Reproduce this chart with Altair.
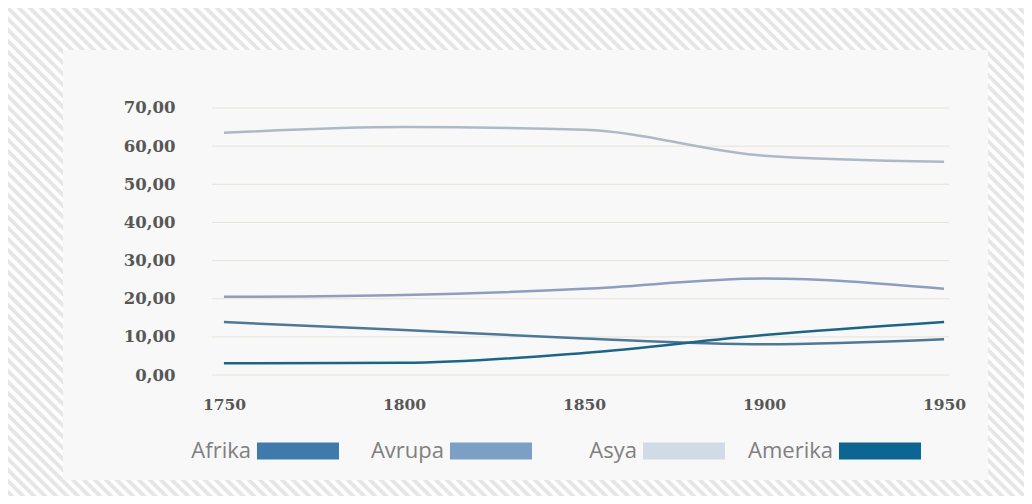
import altair as alt
import pandas as pd

# ---- data ----
years = [1750, 1800, 1850, 1900, 1950]
afrika = [13.9, 11.8, 9.6, 8.1, 9.4]
avrupa = [20.5, 21.0, 22.6, 25.3, 22.6]
asya = [63.5, 65.0, 64.3, 57.5, 55.9]
amerika = [3.1, 3.2, 5.8, 10.5, 13.9]

series = ["Afrika", "Avrupa", "Asya", "Amerika"]
values_by_series = [afrika, avrupa, asya, amerika]
legend_colors = ["#3f7aaa", "#7c9fc6", "#d1dbe7", "#0d6592"]
line_colors = ["#4e7896", "#8e9ebd", "#aeb9c8", "#1d6587"]
y_ticks = [0, 10, 20, 30, 40, 50, 60, 70]
x_ticks = [1750, 1800, 1850, 1900, 1950]

rows = []
for name, vals in zip(series, values_by_series):
    for yr, v in zip(years, vals):
        rows.append({"series": name, "year": yr, "value": v})
df = pd.DataFrame(rows)
grid_df = pd.DataFrame({"value": y_ticks})

# ---- layout ----
W, H = 925, 430
X_DOMAIN = [1705.3, 1962.2]
Y_DOMAIN = [-27.5, 85.2]
GRID_X0, GRID_X1 = 1746.7, 1951.4

xscale = alt.Scale(domain=X_DOMAIN, nice=False, zero=False)
yscale = alt.Scale(domain=Y_DOMAIN, nice=False, zero=False)

axis_font = "DejaVu Serif"

x_axis = alt.Axis(
    values=x_ticks, format="d", title=None, domain=False, ticks=False,
    tickSize=0, grid=False, labelPadding=-76, labelBaseline="middle",
    labelFont=axis_font, labelFontWeight="bold", labelFontSize=15.5,
    labelColor="#575757", labelFlush=False, zindex=2,
)
y_axis = alt.Axis(
    values=y_ticks, title=None, domain=False, ticks=False, tickSize=0,
    grid=False, labelPadding=-112,
    labelExpr="replace(format(datum.value, '.2f'), '.', ',')",
    labelFont=axis_font, labelFontWeight="bold", labelFontSize=16.5,
    labelColor="#575757", labelFlush=False, zindex=2,
)

# diagonal stripes of the outer frame
stripes = (
    alt.Chart(alt.sequence(-1010, 520, 11, as_="c"))
    .transform_calculate(sx="-80", sy="-80 + datum.c", sx2="1020", sy2="1020 + datum.c")
    .mark_rule(color="#e6e6e6", strokeWidth=4, clip=False)
    .encode(
        x=alt.X("sx:Q", scale=None, axis=None),
        y=alt.Y("sy:Q", scale=None, axis=None),
        x2="sx2:Q",
        y2="sy2:Q",
    )
)

panel = (
    alt.Chart(pd.DataFrame({"p": [0]}))
    .mark_rect(color="#f8f8f8")
    .encode(x=alt.value(0), x2=alt.value("width"), y=alt.value(0), y2=alt.value("height"))
)

grid = (
    alt.Chart(grid_df)
    .mark_rule(color="#e7e2d9", strokeWidth=1)
    .encode(
        y=alt.Y("value:Q", scale=yscale, axis=y_axis),
        x=alt.datum(GRID_X0),
        x2=alt.datum(GRID_X1),
    )
)

lines = (
    alt.Chart(df)
    .mark_line(strokeWidth=2.5, interpolate="monotone")
    .encode(
        x=alt.X("year:Q", scale=xscale, axis=x_axis),
        y=alt.Y("value:Q", scale=yscale, axis=y_axis),
        color=alt.Color("series:N", scale=alt.Scale(domain=series, range=line_colors), legend=None),
    )
)

legend_layer = (
    alt.Chart(df)
    .mark_point(opacity=0, filled=True)
    .encode(
        x=alt.X("year:Q"),
        y=alt.Y("value:Q"),
        color=alt.Color(
            "series:N",
            scale=alt.Scale(domain=series, range=legend_colors),
            legend=alt.Legend(
                title=None, orient="none", legendX=106, legendY=360,
                direction="horizontal", gridAlign="none",
                symbolType="M1.146,-0.207L3.146,-0.207L3.146,0.207L1.146,0.207Z",
                symbolSize=6724, symbolStrokeWidth=0, symbolOpacity=1,
                labelAlign="right", labelOffset=0, columnPadding=23,
                labelFont="Open Sans", labelFontSize=22, labelColor="#808080",
            ),
        ),
    )
)

inner = alt.layer(grid, lines, legend_layer).resolve_scale(color="independent")

chart = (
    alt.layer(stripes, panel, inner)
    .resolve_scale(x="independent", y="independent")
    .properties(
        width=W,
        height=H,
        autosize=alt.AutoSizeParams(type="none"),
        padding={"left": 55, "top": 42, "right": 36, "bottom": 16},
        background="#ffffff",
    )
    .configure_view(stroke=None)
)

chart.save("out.html", embed_options={"renderer": "svg", "actions": False})
